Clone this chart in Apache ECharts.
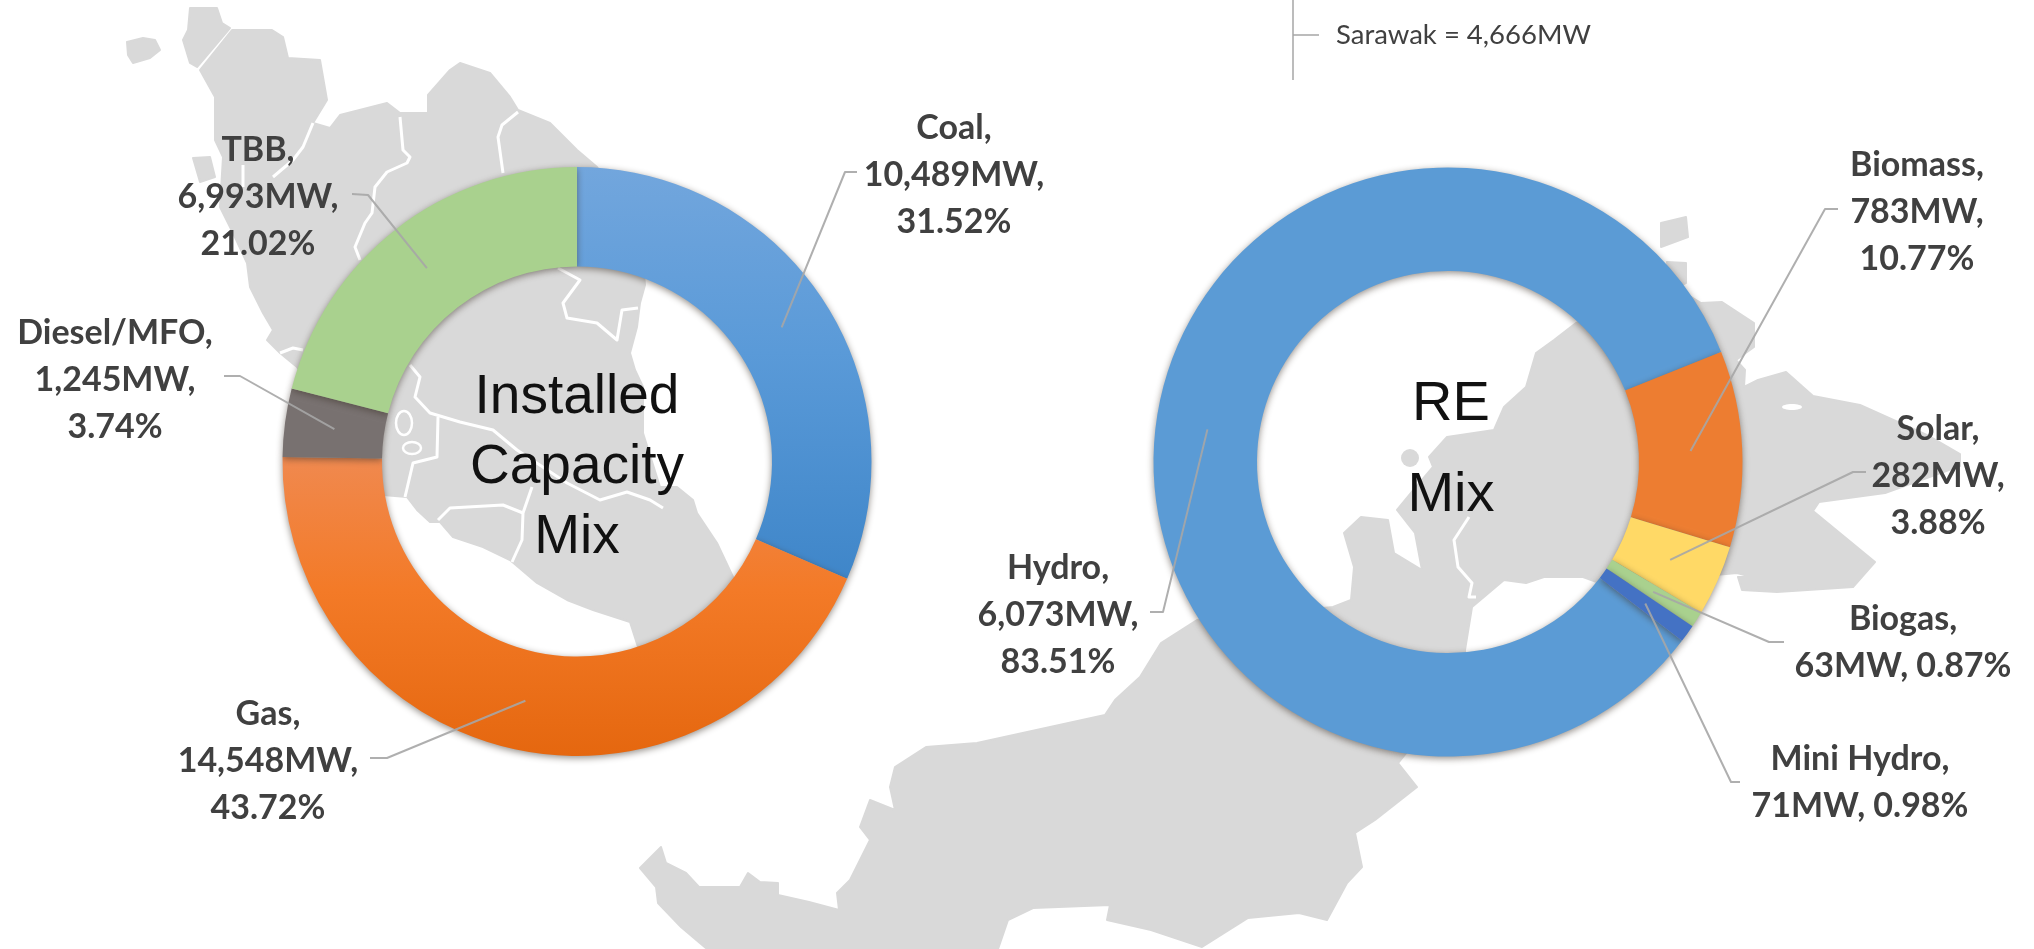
<!DOCTYPE html>
<html>
<head>
<meta charset="utf-8">
<title>Installed Capacity Mix and RE Mix</title>
<script src="https://cdn.jsdelivr.net/npm/echarts@6/dist/echarts.min.js"></script>
<style>
  html, body { margin: 0; padding: 0; background: #fff; }
  #chart { width: 2034px; height: 949px; }
</style>
</head>
<body>
<div id="chart"></div>
<script>
// chart values
const capacityNames = ['Coal', 'Gas', 'Diesel/MFO', 'TBB'];
const capacityValues = [10489, 14548, 1245, 6993];
const reNames = ['Hydro', 'Biomass', 'Solar', 'Biogas', 'Mini Hydro'];
const reValues = [6073, 783, 282, 63, 71];
const sarawakNote = 'Sarawak = 4,666MW';

// label text centre per slice, then leader line elbow and end
const capacitySpots = [[954, 175], [268, 761], [115, 380], [258, 197]];
const capacityLeaders = [[[845, 172], [857, 172]], [[387, 758], [370, 758]], [[240, 376], [224, 376]], [[368, 195], [352, 194]]];
const reSpots = [[1058, 615], [1917, 212], [1938, 476], [1903, 643], [1860, 783]];
const reLeaders = [[[1163, 612], [1150, 612]], [[1825, 209], [1838, 209]], [[1853, 472], [1866, 472]], [[1769, 642], [1784, 642]], [[1731, 782], [1740, 782]]];
const twoLineLabels = ['Biogas', 'Mini Hydro'];

// background map, page pixels
const mapLangkawi = [[127,42],[143,38],[155,40],[160,50],[150,58],[133,63],[128,55]];
const mapPerlis = [[190,8],[217,8],[222,23],[230,28],[197,67],[190,63],[183,40],[188,30]];
const mapPenang = [[193,158],[210,157],[215,177],[200,182]];
const mapPeninsula = [[232,30],[267,30],[272,30],[283,37],[288,58],[320,60],[327,100],[313,123],[330,128],[340,115],[387,103],[400,113],[428,113],[428,95],[450,70],[460,63],[490,73],[510,97],[518,110],[550,123],[577,150],[597,167],[640,230],[645,285],[640,303],[637,327],[630,353],[635,370],[643,387],[643,433],[660,487],[677,487],[693,500],[697,513],[717,543],[733,577],[760,640],[700,680],[638,647],[630,622],[593,610],[567,600],[537,583],[510,560],[483,547],[453,537],[440,522],[430,522],[417,510],[407,497],[383,495],[340,420],[297,367],[280,353],[267,340],[273,330],[263,313],[250,287],[247,263],[233,233],[220,207],[223,157],[215,140],[215,97],[200,70]];
const mapBorneo = [[1197,620],[1333,607],[1351,600],[1354,567],[1344,533],[1361,517],[1388,520],[1394,553],[1422,570],[1415,533],[1397,510],[1411,493],[1433,467],[1429,457],[1447,437],[1494,430],[1504,407],[1526,387],[1536,353],[1554,340],[1576,323],[1680,290],[1701,303],[1722,302],[1754,323],[1754,347],[1736,360],[1745,370],[1744,387],[1758,380],[1786,372],[1813,396],[1860,405],[1929,436],[1960,454],[1960,466],[1885,493],[1819,502],[1813,511],[1875,562],[1853,587],[1777,592],[1742,590],[1738,577],[1752,577],[1737,573],[1605,585],[1583,577],[1544,577],[1526,583],[1504,580],[1472,607],[1465,650],[1465,680],[1398,763],[1417,787],[1375,820],[1355,833],[1362,867],[1347,883],[1327,920],[1299,913],[1248,918],[1202,947],[1151,930],[1107,920],[1110,905],[1033,908],[1008,920],[998,949],[707,949],[681,927],[658,903],[656,887],[640,868],[661,847],[666,863],[686,873],[699,887],[740,887],[748,873],[760,882],[778,883],[778,895],[809,902],[839,910],[837,893],[850,880],[870,840],[860,827],[870,800],[895,810],[890,787],[895,767],[926,747],[977,743],[1105,715],[1115,700],[1140,677],[1161,643]];
const mapIsles = [
  [[1661,223],[1686,217],[1688,237],[1661,247]],
  [[1667,262],[1686,263],[1686,283],[1670,290]]
];
const mapBorders = [
  [[313,123],[303,147],[293,160],[273,177]],
  [[243,165],[243,187]],
  [[400,117],[403,150],[410,157],[407,163],[387,172],[375,187],[372,213],[365,223],[355,247],[360,260]],
  [[518,112],[502,125],[498,137],[503,173]],
  [[280,353],[293,348],[303,350]],
  [[558,268],[580,280],[563,303],[567,318],[597,323],[617,340],[622,310],[638,308]],
  [[410,365],[420,377],[415,397],[430,413],[460,422],[493,430],[517,450],[567,483],[600,500],[627,492],[650,500],[663,508]],
  [[438,417],[437,457],[413,463],[405,497]],
  [[438,520],[450,508],[503,505],[523,513]],
  [[532,487],[523,513],[522,540],[512,562]],
  [[1469,517],[1454,540],[1458,567],[1472,583],[1469,597],[1476,597]]
];

const MAP_GREY = '#d9d9d9';
const LEADER_GREY = '#a6a6a6';
const capacityCenter = [577, 461.5];
const capacityRadius = [195, 294.5];
const reCenter = [1448, 462];
const reRadius = [191, 294.5];
const reClockStart = 127.4; // degrees clockwise from 12 o'clock

function vGrad (top, mid, bottom) {
  return new echarts.graphic.LinearGradient(0, 0, 0, 1, [
    { offset: 0, color: top },
    { offset: 0.45, color: mid },
    { offset: 1, color: bottom }
  ]);
}

const capacityColors = [vGrad('#72a6dd', '#5a9ad8', '#3f86c9'), vGrad('#f0894f', '#f37a27', '#e5670f'), '#787170', '#a9d18e'];
const reColors = ['#5b9bd5', '#ed7d31', '#ffd966', '#a9d18e', '#4472c4'];

// percent worked out here, echarts' rounding would give Biogas 0.86
function labelFormatter (values) {
  const total = values.reduce((a, b) => a + b, 0);
  return function (p) {
    const mw = p.value.toLocaleString('en-US') + 'MW,';
    const pct = (p.value / total * 100).toFixed(2) + '%';
    if (twoLineLabels.indexOf(p.name) >= 0) return p.name + ',\n' + mw + ' ' + pct;
    return p.name + ',\n' + mw + '\n' + pct;
  };
}

// leader lines start in the middle of the ring, at the slice's mid angle
function anchorPoint (values, idx, startDeg, center, midR) {
  const total = values.reduce((a, b) => a + b, 0);
  let before = 0;
  for (let i = 0; i < idx; i++) before += values[i];
  const deg = startDeg + (before + values[idx] / 2) / total * 360;
  const rad = deg * Math.PI / 180;
  return [center[0] + midR * Math.sin(rad), center[1] - midR * Math.cos(rad)];
}

function donut (names, values, colors, spots, center, radius, clockStart) {
  return {
    type: 'pie',
    center: center,
    radius: radius,
    startAngle: 90 - clockStart,
    silent: true,
    animation: false,
    avoidLabelOverlap: false,
    data: names.map((n, i) => ({ name: n, value: values[i], itemStyle: { color: colors[i] } })),
    itemStyle: {
      shadowColor: 'rgba(60,50,40,0.55)',
      shadowBlur: 7,
      shadowOffsetY: 2
    },
    label: {
      show: true,
      formatter: labelFormatter(values),
      fontFamily: 'Lato',
      fontWeight: 'bold',
      fontSize: 34,
      lineHeight: 47,
      color: '#404040',
      align: 'center'
    },
    labelLine: { show: false },
    labelLayout: function (params) {
      const i = params.dataIndex;
      return { x: spots[i][0], y: spots[i][1], align: 'center', verticalAlign: 'middle' };
    }
  };
}

// pie label lines sit under the ring, so these are drawn on top instead
function leaderShapes (values, leaders, clockStart, center, radius) {
  const midR = (radius[0] + radius[1]) / 2;
  return values.map((v, i) => ({
    type: 'polyline',
    silent: true,
    z: 50,
    shape: { points: [anchorPoint(values, i, clockStart, center, midR), leaders[i][0], leaders[i][1]] },
    style: { fill: null, stroke: LEADER_GREY, lineWidth: 2, lineJoin: 'round', opacity: 0.9 }
  }));
}

function mapShapes () {
  const shapes = [];
  [mapLangkawi, mapPerlis, mapPeninsula, mapPenang, mapBorneo].concat(mapIsles).forEach(pts => {
    shapes.push({
      type: 'polygon',
      silent: true,
      z: -10,
      shape: { points: pts },
      style: { fill: MAP_GREY, stroke: MAP_GREY, lineWidth: 2, lineJoin: 'round' }
    });
  });
  mapBorders.forEach(pts => {
    shapes.push({
      type: 'polyline',
      silent: true,
      z: -9,
      shape: { points: pts },
      style: { fill: null, stroke: '#fff', lineWidth: 3, lineJoin: 'round' }
    });
  });
  // KL and Putrajaya rings
  [[404, 423, 8, 12], [412, 448, 9, 6]].forEach(e => {
    shapes.push({
      type: 'ellipse',
      silent: true,
      z: -9,
      shape: { cx: e[0], cy: e[1], rx: e[2], ry: e[3] },
      style: { fill: null, stroke: '#fff', lineWidth: 2.5 }
    });
  });
  // small islet inside the RE ring and the inlet on the Sabah side
  shapes.push({ type: 'circle', silent: true, z: -10, shape: { cx: 1410, cy: 458, r: 9 }, style: { fill: MAP_GREY } });
  shapes.push({ type: 'ellipse', silent: true, z: -9, shape: { cx: 1792, cy: 407, rx: 10, ry: 3 }, style: { fill: '#fff' } });
  return shapes;
}

function noteShapes () {
  return [
    { type: 'line', silent: true, shape: { x1: 1293, y1: 0, x2: 1293, y2: 80 }, style: { stroke: '#a6a6a6', lineWidth: 1.5 } },
    { type: 'line', silent: true, shape: { x1: 1293, y1: 35, x2: 1319, y2: 35 }, style: { stroke: '#a6a6a6', lineWidth: 1.5 } },
    {
      type: 'text',
      silent: true,
      style: {
        x: 1336, y: 35,
        text: sarawakNote,
        fill: '#404040',
        font: '27.5px Lato',
        align: 'left',
        verticalAlign: 'middle'
      }
    }
  ];
}

const chart = echarts.init(document.getElementById('chart'), null, { renderer: 'canvas' });
chart.setOption({
  backgroundColor: '#fff',
  animation: false,
  tooltip: { show: false },
  title: [
    {
      text: 'Installed\nCapacity\nMix',
      left: 572, top: 358, textAlign: 'center',
      textStyle: { fontFamily: 'Liberation Sans', fontWeight: 'normal', fontSize: 55, lineHeight: 70, color: '#111' }
    },
    {
      text: 'RE\nMix',
      left: 1446, top: 354, textAlign: 'center',
      textStyle: { fontFamily: 'Liberation Sans', fontWeight: 'normal', fontSize: 56, lineHeight: 91, color: '#111' }
    }
  ],
  graphic: {
    elements: mapShapes()
      .concat(noteShapes())
      .concat(leaderShapes(capacityValues, capacityLeaders, 0, capacityCenter, capacityRadius))
      .concat(leaderShapes(reValues, reLeaders, reClockStart, reCenter, reRadius))
  },
  series: [
    donut(capacityNames, capacityValues, capacityColors, capacitySpots, capacityCenter, capacityRadius, 0),
    donut(reNames, reValues, reColors, reSpots, reCenter, reRadius, reClockStart)
  ]
});
</script>
</body>
</html>
